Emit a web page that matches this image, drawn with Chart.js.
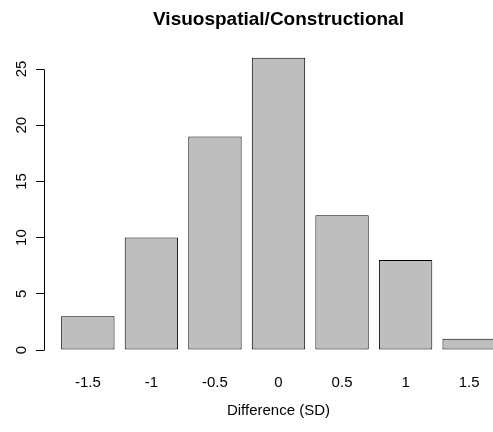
<!DOCTYPE html>
<html>
<head>
<meta charset="utf-8">
<script src="https://cdn.jsdelivr.net/npm/chart.js@4"></script>
<style>
    html, body { margin: 0; padding: 0; background: #fff; overflow: hidden; }
</style>
</head>
<body>
<canvas id="diffChart" width="530" height="432"></canvas>
<script>
// Daten
const differences = [-1.5, -1, -0.5, 0, 0.5, 1, 1.5];
const diffLabels = ['-1.5', '-1', '-0.5', '0', '0.5', '1', '1.5'];
const counts = [3, 10, 19, 26, 12, 8, 1];
const yTicks = [0, 5, 10, 15, 20, 25];

const fontFamily = '"Liberation Sans", Arial, Helvetica, sans-serif';

// R-Style y-Achse: Linie nur von 0 bis 25, Labels gedreht
const rAxisPlugin = {
    id: 'rAxis',
    afterDraw(chart) {
        const { ctx, chartArea, scales: { y } } = chart;
        const x = Math.round(chartArea.left) + 0.5;
        ctx.save();
        ctx.strokeStyle = '#000';
        ctx.lineWidth = 1;
        ctx.beginPath();
        ctx.moveTo(x, Math.round(y.getPixelForValue(yTicks[0])) + 0.5);
        ctx.lineTo(x, Math.round(y.getPixelForValue(yTicks[yTicks.length - 1])) + 0.5);
        ctx.stroke();

        ctx.fillStyle = '#000';
        ctx.font = '15px ' + fontFamily;
        ctx.textAlign = 'center';
        ctx.textBaseline = 'middle';
        yTicks.forEach(v => {
            ctx.save();
            ctx.translate(chartArea.left - 22, y.getPixelForValue(v));
            ctx.rotate(-Math.PI / 2);
            ctx.fillText(String(v), 0, 0);
            ctx.restore();
        });
        ctx.restore();
    }
};

const ctx = document.getElementById('diffChart').getContext('2d');
new Chart(ctx, {
    type: 'bar',
    data: {
        datasets: [{
            data: differences.map((d, i) => ({ x: d, y: counts[i] })),
            backgroundColor: '#bebebe',
            borderColor: '#000',
            borderWidth: 1,
            borderSkipped: false,
            categoryPercentage: 1,
            barPercentage: 0.84
        }]
    },
    options: {
        responsive: false,
        animation: false,
        layout: { padding: { left: 0, right: 17, top: 0, bottom: 0 } },
        plugins: {
            legend: { display: false },
            tooltip: { enabled: false },
            title: {
                display: true,
                fullSize: false,
                text: 'Visuospatial/Constructional',
                color: '#000',
                font: { family: fontFamily, size: 19, weight: 'bold', lineHeight: 1.2 },
                padding: { top: 8.5, bottom: 14.8 }
            }
        },
        scales: {
            x: {
                type: 'linear',
                offset: false,
                min: -1.845,
                max: 1.845,
                grid: { display: false, drawTicks: false, offset: false },
                border: { display: false },
                afterBuildTicks: s => { s.ticks = differences.map(v => ({ value: v })); },
                afterFit: s => { s.height = 70.3; },
                ticks: {
                    color: '#000',
                    padding: 12,
                    maxRotation: 0,
                    autoSkip: false,
                    font: { family: fontFamily, size: 15 },
                    callback: (v, i) => diffLabels[i]
                },
                title: {
                    display: true,
                    text: 'Difference (SD)',
                    color: '#000',
                    font: { family: fontFamily, size: 15 },
                    padding: { top: 0, bottom: 12 }
                }
            },
            y: {
                min: -1.04,
                max: 27.04,
                afterBuildTicks: s => { s.ticks = yTicks.map(v => ({ value: v })); },
                afterFit: s => { s.width = 44; },
                grid: {
                    drawOnChartArea: false,
                    drawTicks: true,
                    tickLength: 8,
                    color: '#000'
                },
                border: { display: false },
                ticks: { display: false }
            }
        }
    },
    plugins: [rAxisPlugin]
});
</script>
</body>
</html>
